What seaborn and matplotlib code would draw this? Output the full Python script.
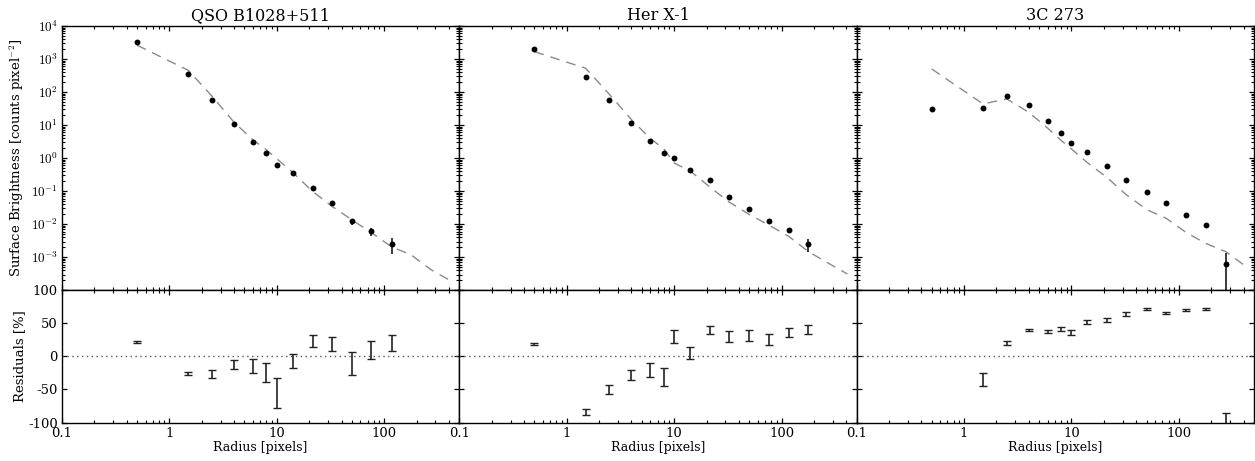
import numpy as np
import pandas as pd
import matplotlib
matplotlib.use("Agg")
import matplotlib.pyplot as plt
import seaborn as sns
from matplotlib.ticker import FixedLocator, FuncFormatter, LogLocator, NullFormatter

# Radial bins shared by all three sources [pixels]
radius = [0.5, 1.5, 2.5, 4, 6, 8, 10, 14, 21.5, 32.5, 50, 76, 117, 178, 273, 410]

titles = ["QSO B1028+511", "Her X-1", "3C 273"]

# QSO B1028+511
qso_sb = [3350, 360, 59, 10.8, 3.1, 1.44, 0.62, 0.35, 0.128, 0.043, 0.0123, 0.0061, 0.0026]
qso_sb_err = [15, 4, 1.2, 0.3, 0.12, 0.07, 0.05, 0.03, 0.012, 0.004, 0.0026, 0.0016, 0.0013]
qso_model = [2623, 454, 74.5, 12.2, 3.57, 1.79, 0.96, 0.375, 0.0986, 0.0352, 0.0136,
             0.00555, 0.00208, 0.00118, 0.00042, 0.0002]
qso_resid = [21.7, -26, -26.3, -12.6, -15.2, -24.5, -55, -7.1, 23, 18.2, -10.6, 9.1, 20]
qso_resid_err = [1, 2.8, 5.6, 6.6, 10.6, 13.9, 22.7, 11.1, 9.3, 10.6, 17.2, 13.6, 12.4]

# Her X-1
her_sb = [2056, 286, 56.5, 11.4, 3.25, 1.47, 1.01, 0.44, 0.223, 0.067, 0.029, 0.0128, 0.0067, 0.00248]
her_sb_err = [10, 3, 1, 0.3, 0.12, 0.07, 0.05, 0.02, 0.008, 0.003, 0.0015, 0.0008, 0.0005, 0.001]
her_model = [1672, 527, 84.8, 14.6, 3.94, 1.93, 0.709, 0.418, 0.134, 0.0469, 0.0198,
             0.0095, 0.00426, 0.00148, 0.00066, 0.000313]
her_resid = [18.7, -84.3, -50, -27.8, -21.2, -31.3, 29.8, 5, 40, 30, 31.8, 25.8, 36.4, 40.4]
her_resid_err = [1, 4.3, 6.6, 7.3, 10.6, 14, 9.6, 9.3, 5.8, 7.8, 7.8, 7.8, 6.3, 6.6]

# 3C 273
c273_sb = [30, 32.5, 77.8, 40.7, 13.1, 5.9, 2.95, 1.54, 0.57, 0.215, 0.097, 0.045, 0.0191, 0.0093, 0.00062]
c273_sb_err = [0.5, 0.5, 0.8, 0.4, 0.15, 0.06, 0.03, 0.02, 0.006, 0.002, 0.001, 0.0005,
               0.0002, 0.0001, 0.00077]
c273_model = [500, 44, 62, 24.4, 8.07, 3.46, 1.89, 0.739, 0.2565, 0.0774, 0.0279,
              0.0152, 0.0056, 0.00263, 0.00148, 0.00056]
c273_resid = [-1567, -35.4, 20.2, 40, 38.4, 41.4, 35.9, 52, 55, 64, 71.2, 66.2, 70.7, 71.7, -139]
c273_resid_err = [50, 10, 3, 2, 2.3, 3, 4, 2.5, 2.5, 2.5, 1.5, 1.5, 1.5, 1.5, 54]

sources = [
    (qso_sb, qso_sb_err, qso_model, qso_resid, qso_resid_err),
    (her_sb, her_sb_err, her_model, her_resid, her_resid_err),
    (c273_sb, c273_sb_err, c273_model, c273_resid, c273_resid_err),
]

sns.set_theme(style="ticks")
plt.rcParams.update({
    "font.family": ["DejaVu Serif"],
    "mathtext.fontset": "cm",
    "axes.linewidth": 1.0,
    "axes.edgecolor": "black",
    "axes.unicode_minus": False,
    "xtick.color": "black",
    "ytick.color": "black",
    "text.color": "black",
    "axes.labelcolor": "black",
})

fig = plt.figure(figsize=(12.55, 4.61), dpi=100)
gs = fig.add_gridspec(2, 3, height_ratios=[2, 1], hspace=0, wspace=0,
                      left=0.0494, right=0.9992, top=0.9436, bottom=0.0835)

plain = FuncFormatter(lambda v, p: f"{v:g}")


def log_label(v, p):
    e = int(round(np.log10(v)))
    if e <= -4:
        return ""
    return r"$10^{%d}$" % e


def style_ticks(ax):
    ax.tick_params(which="both", direction="in", top=True, right=True,
                   colors="black", labelsize=9.5, pad=3)
    ax.tick_params(which="major", length=3.6, width=0.9)
    ax.tick_params(which="minor", length=2.2, width=0.8)


top_axes, bot_axes = [], []
for i, (sb, sb_err, model, resid, resid_err) in enumerate(sources):
    ax = fig.add_subplot(gs[0, i], sharey=top_axes[0] if top_axes else None)
    axr = fig.add_subplot(gs[1, i], sharex=ax, sharey=bot_axes[0] if bot_axes else None)
    top_axes.append(ax)
    bot_axes.append(axr)

    n = len(sb)
    data = pd.DataFrame({"radius": radius[:n], "sb": sb, "err": sb_err,
                         "resid": resid, "rerr": resid_err})
    mod = pd.DataFrame({"radius": radius, "model": model})

    ax.set_xscale("log")
    ax.set_yscale("log")
    ax.set_xlim(0.1, 500)
    ax.set_ylim(1e-4, 1e4)

    # best-fit model profile
    sns.lineplot(data=mod, x="radius", y="model", ax=ax, color="#8a8a8a",
                 lw=1.0, dashes=False, estimator=None, sort=False)
    ax.lines[-1].set_dashes([7, 5])
    # measured profile
    ax.errorbar(data["radius"], data["sb"], yerr=data["err"], fmt="none",
                ecolor="#3a3a3a", elinewidth=1.4, capsize=0)
    sns.scatterplot(data=data, x="radius", y="sb", ax=ax, color="black",
                    s=18, edgecolor="black", linewidth=0, zorder=3)

    # residuals
    axr.axhline(0, color="#555555", lw=1.0, ls=(0, (1, 2.5)))
    axr.errorbar(data["radius"], data["resid"], yerr=data["rerr"], fmt="none",
                 ecolor="#222222", elinewidth=1.2, capsize=3.0, capthick=1.0)
    axr.set_ylim(-100, 100)

    ax.set_title(titles[i], fontsize=11.5, pad=4)
    for a in (ax, axr):
        style_ticks(a)
        a.set_xlabel("")
        a.set_ylabel("")
    ax.xaxis.set_major_locator(LogLocator(base=10, numticks=10))
    ax.xaxis.set_minor_locator(LogLocator(base=10, subs=np.arange(2, 10), numticks=20))
    ax.tick_params(labelbottom=False)
    axr.xaxis.set_major_formatter(plain)
    axr.xaxis.set_minor_formatter(NullFormatter())
    axr.set_xlabel("Radius [pixels]", fontsize=9, labelpad=1)

    ax.yaxis.set_major_locator(FixedLocator([10.0 ** k for k in range(-4, 5)]))
    ax.yaxis.set_minor_locator(LogLocator(base=10, subs=np.arange(2, 10), numticks=20))
    ax.yaxis.set_major_formatter(FuncFormatter(log_label))
    ax.yaxis.set_minor_formatter(NullFormatter())
    axr.yaxis.set_major_locator(FixedLocator([-100, -50, 0, 50, 100]))
    axr.yaxis.set_major_formatter(FuncFormatter(lambda v, p: f"{int(v)}"))

    if i > 0:
        ax.tick_params(labelleft=False)
        axr.tick_params(labelleft=False)

top_axes[0].set_ylabel(r"Surface Brightness [counts pixel$^{-2}$]", fontsize=9.5)
bot_axes[0].set_ylabel("Residuals [%]", fontsize=9.5)
top_axes[0].yaxis.set_label_coords(-0.09, 0.5)
bot_axes[0].yaxis.set_label_coords(-0.09, 0.5)

fig.savefig("out.png", dpi=100)
